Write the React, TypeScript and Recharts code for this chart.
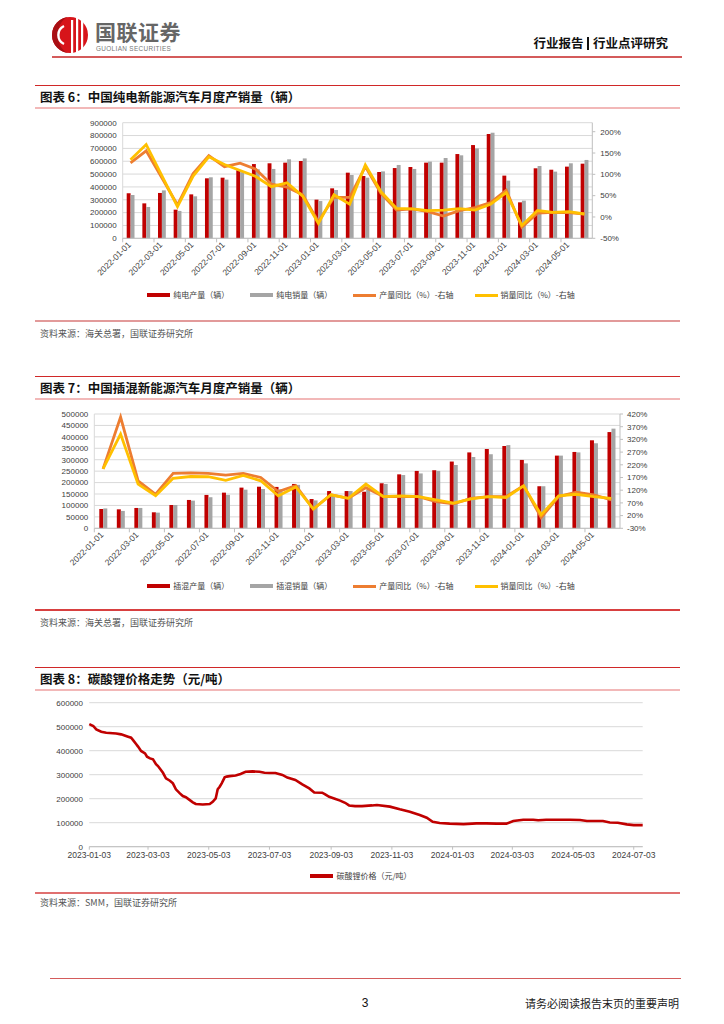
import React from 'react';
import { ComposedChart, LineChart, Bar, Line, XAxis, YAxis, CartesianGrid, Legend } from 'recharts';

// ---------- data: chart 6 (BEV) ----------
const months = [
  '2022-01-01', '2022-02-01', '2022-03-01', '2022-04-01', '2022-05-01', '2022-06-01',
  '2022-07-01', '2022-08-01', '2022-09-01', '2022-10-01', '2022-11-01', '2022-12-01',
  '2023-01-01', '2023-02-01', '2023-03-01', '2023-04-01', '2023-05-01', '2023-06-01',
  '2023-07-01', '2023-08-01', '2023-09-01', '2023-10-01', '2023-11-01', '2023-12-01',
  '2024-01-01', '2024-02-01', '2024-03-01', '2024-04-01', '2024-05-01', '2024-06-01',
];
const bevProduction = [350000, 272000, 353000, 223000, 342000, 467000, 472000, 530000, 578000, 584000, 589000, 602000, 301000, 389000, 511000, 485000, 516000, 547000, 555000, 589000, 589000, 656000, 726000, 812000, 488000, 280000, 545000, 534000, 558000, 581000];
const bevSales = [337000, 244000, 373000, 213000, 327000, 475000, 457000, 515000, 537000, 540000, 615000, 622000, 290000, 376000, 493000, 472000, 521000, 571000, 540000, 597000, 625000, 646000, 700000, 822000, 449000, 293000, 563000, 519000, 584000, 610000];
const bevProductionYoY = [127, 155, 92, 28, 102, 144, 118, 126, 112, 77, 70, 52, -11, 46, 46, 118, 55, 16, 19, 12.5, 2, 15, 22, 34, 63, -24, 9, 11, 10, 7];
const bevSalesYoY = [134, 170, 97, 24, 96, 141, 123, 109, 95, 71, 80, 49, -15, 52, 30, 122, 59, 20, 19, 15, 16, 19.5, 16, 30, 57, -20, 15, 11, 12.5, 7];
const bevLeftTicks = [0, 100000, 200000, 300000, 400000, 500000, 600000, 700000, 800000, 900000];
const bevRightTicks = [-50, 0, 50, 100, 150, 200];
const bevNames = ['纯电产量（辆）', '纯电销量（辆）', '产量同比（%）-右轴', '销量同比（%）-右轴'];

// ---------- data: chart 7 (PHEV) ----------
const phevProduction = [84500, 83000, 89000, 70000, 102000, 124000, 146000, 156000, 178000, 182000, 181000, 194000, 128000, 163000, 163000, 160000, 197000, 236000, 251000, 254000, 292000, 332000, 347000, 360000, 299000, 184000, 318000, 334000, 385000, 421000];
const phevSales = [87000, 76000, 89000, 68500, 102000, 121000, 136000, 146000, 169000, 172000, 170000, 190000, 122000, 150000, 163000, 168000, 194000, 233000, 240000, 251000, 277000, 312000, 324000, 364000, 284000, 184000, 318000, 332000, 372000, 436000];
const phevProductionYoY = [204, 408, 157, 104, 186, 188, 186, 179, 186, 170, 115, 138, 46, 102, 88, 130, 95, 95, 95, 75, 66, 88, 95, 95, 138, 12, 95, 112, 102, 82];
const phevSalesYoY = [204, 341, 144, 98, 167, 174, 173, 159, 178, 157, 98, 133, 46, 102, 88, 144, 95, 98, 95, 82, 69, 86, 95, 91, 137, 23, 98, 104, 95, 88];
const phevLeftTicks = [0, 50000, 100000, 150000, 200000, 250000, 300000, 350000, 400000, 450000, 500000];
const phevRightTicks = [-30, 20, 70, 120, 170, 220, 270, 320, 370, 420];
const phevNames = ['插混产量（辆）', '插混销量（辆）', '产量同比（%）-右轴', '销量同比（%）-右轴'];

// ---------- data: chart 8 (lithium carbonate) ----------
const priceDates = [
  '2023-01-03', '2023-01-07', '2023-01-10', '2023-01-15', '2023-01-20', '2023-01-30', '2023-02-04', '2023-02-11',
  '2023-02-14', '2023-02-16', '2023-02-19', '2023-02-21', '2023-02-24', '2023-02-28', '2023-03-02', '2023-03-05',
  '2023-03-08', '2023-03-11', '2023-03-13', '2023-03-18', '2023-03-21', '2023-03-25', '2023-03-28', '2023-03-31',
  '2023-04-04', '2023-04-07', '2023-04-10', '2023-04-14', '2023-04-17', '2023-04-20', '2023-04-27', '2023-05-04',
  '2023-05-07', '2023-05-10', '2023-05-12', '2023-05-14', '2023-05-16', '2023-05-19', '2023-05-21', '2023-05-24',
  '2023-05-30', '2023-06-04', '2023-06-09', '2023-06-16', '2023-06-23', '2023-06-28', '2023-07-03', '2023-07-09',
  '2023-07-16', '2023-07-21', '2023-07-29', '2023-08-05', '2023-08-12', '2023-08-17', '2023-08-25', '2023-08-28',
  '2023-09-01', '2023-09-06', '2023-09-12', '2023-09-17', '2023-09-21', '2023-09-27', '2023-10-04', '2023-10-14',
  '2023-10-19', '2023-11-01', '2023-11-11', '2023-11-21', '2023-12-01', '2023-12-08', '2023-12-14', '2023-12-21',
  '2023-12-31', '2024-01-14', '2024-01-27', '2024-02-06', '2024-02-16', '2024-02-26', '2024-03-04', '2024-03-14',
  '2024-03-24', '2024-03-29', '2024-04-06', '2024-04-17', '2024-04-30', '2024-05-10', '2024-05-17', '2024-06-02',
  '2024-06-09', '2024-06-17', '2024-06-26', '2024-07-03', '2024-07-12',
];
const lithiumPrice = [
  511000, 503000, 489000, 479000, 475000, 472000, 468000, 458000,
  454000, 444000, 428000, 417000, 399000, 389000, 375000, 368000,
  364000, 344000, 336000, 308000, 285000, 275000, 264000, 239000,
  222000, 211000, 206000, 194000, 185000, 178000, 176000, 178000,
  187000, 201000, 239000, 250000, 264000, 289000, 292000, 294000,
  297000, 303000, 312000, 314000, 312000, 308000, 307000, 307000,
  299000, 288000, 278000, 260000, 243000, 226000, 225000, 218000,
  208000, 201000, 192000, 183000, 172000, 169000, 169000, 172000,
  174000, 167000, 156000, 146000, 132000, 121000, 104000, 99000,
  96000, 94000, 97000, 97000, 96000, 96000, 107000, 112000,
  112000, 110000, 112000, 112000, 112000, 111000, 107000, 107000,
  101000, 100000, 93000, 90000, 90000,
];
const priceTickDates = ['2023-01-03', '2023-03-03', '2023-05-03', '2023-07-03', '2023-09-03', '2023-11-03', '2024-01-03', '2024-03-03', '2024-05-03', '2024-07-03'];
const priceYTicks = [0, 100000, 200000, 300000, 400000, 500000, 600000];
const priceName = '碳酸锂价格（元/吨）';

// ---------- derived tables ----------
const data6 = months.map((m, i) => ({ month: m, prod: bevProduction[i], sales: bevSales[i], prodYoY: bevProductionYoY[i], salesYoY: bevSalesYoY[i] }));
const data7 = months.map((m, i) => ({ month: m, prod: phevProduction[i], sales: phevSales[i], prodYoY: phevProductionYoY[i], salesYoY: phevSalesYoY[i] }));
const DAY = 86400000;
const dayOf = (s: string) => Math.round((Date.parse(s) - Date.parse(priceDates[0])) / DAY);
const data8 = priceDates.map((d, i) => ({ day: dayOf(d), price: lithiumPrice[i] }));
const priceTicks = priceTickDates.map(dayOf);

// ---------- styles ----------
const CJK = '"Noto Sans CJK SC", "Noto Sans", sans-serif';
const NUM = '"Liberation Sans", Arial, sans-serif';
const RED = '#C00000';
const GRAY = '#A5A5A5';
const ORANGE = '#ED7D31';
const YELLOW = '#FFC000';
const GRID = '#D9D9D9';
const AXIS = '#BFBFBF';
const LABEL = '#404040';

const RotTick = (props: any) => {
  const { x, y, payload, bw } = props;
  const px = x + 1;
  const py = y + 3;
  return (
    <g>
      <line x1={x - bw / 2} y1={y - 4} x2={x - bw / 2} y2={y} stroke={AXIS} strokeWidth={1} />
      <text x={px} y={py} textAnchor="end" transform={`rotate(-45 ${px} ${py})`} fontSize={8.5} fill={LABEL} fontFamily={NUM}>
        {payload.value}
      </text>
    </g>
  );
};

const LegendRow = ({ items }: { items: { name: string; color: string; h: number }[] }) => (
  <div style={{ display: 'flex', justifyContent: 'center', alignItems: 'center', gap: 21, fontFamily: CJK, fontSize: 8, color: '#404040', lineHeight: '12px', paddingRight: 2 }}>
    {items.map((it) => (
      <div key={it.name} style={{ display: 'flex', alignItems: 'center' }}>
        <span style={{ display: 'inline-block', width: 23, height: it.h, background: it.color, marginRight: 3 }} />
        <span>{it.name}</span>
      </div>
    ))}
  </div>
);

const Rule = ({ top, left = 35, right = 680, h = 1, color }: any) => (
  <div style={{ position: 'absolute', top, left, width: right - left, height: h, background: color }} />
);

const Title = ({ top, text }: { top: number; text: string }) => (
  <>
    <Rule top={top - 12} color="#D02828" />
    <div style={{ position: 'absolute', top: top - 8, left: 40, fontFamily: CJK, fontWeight: 700, fontSize: 12.5, lineHeight: '16px', color: '#111', whiteSpace: 'nowrap' }}>{text}</div>
    <Rule top={top + 10} h={2} color="#F2B8B8" />
  </>
);

const Source = ({ top, text, lineTop, lineColor }: any) => (
  <>
    <Rule top={lineTop} h={2} color={lineColor} />
    <div style={{ position: 'absolute', top: top - 7, left: 40, fontFamily: CJK, fontSize: 9, lineHeight: '14px', color: '#555', whiteSpace: 'nowrap' }}>{text}</div>
  </>
);

function BarLineChart({ top, data, leftTicks, rightTicks, rightDomain, plot, names, barW }: any) {
  const width = 724;
  const height = plot.legendBottom - top;
  const bw = (plot.right - plot.left) / data.length;
  const items = [
    { name: names[0], color: RED, h: 4 },
    { name: names[1], color: GRAY, h: 4 },
    { name: names[2], color: ORANGE, h: 3 },
    { name: names[3], color: YELLOW, h: 3 },
  ];
  return (
    <div style={{ position: 'absolute', top, left: 0 }}>
      <ComposedChart
        width={width}
        height={height}
        data={data}
        barGap={0}
        margin={{ top: plot.top - top, right: width - plot.right - 40, bottom: 0, left: 0 }}
      >
        <CartesianGrid vertical={false} stroke={GRID} strokeWidth={1} />
        <XAxis
          dataKey="month"
          interval={1}
          tickSize={4}
          tickMargin={0}
          tickLine={false}
          axisLine={{ stroke: AXIS }}
          height={plot.legendBottom - plot.bottom}
          tick={(p: any) => <RotTick {...p} bw={bw} />}
        />
        <YAxis
          domain={[leftTicks[0], leftTicks[leftTicks.length - 1]]}
          ticks={leftTicks}
          interval={0}
          width={plot.left}
          tickSize={4}
          tickMargin={2}
          tickLine={false}
          axisLine={{ stroke: GRID }}
          tick={{ fontSize: 8, fill: LABEL, fontFamily: NUM }}
        />
        <YAxis
          yAxisId="right"
          orientation="right"
          domain={rightDomain}
          ticks={rightTicks}
          interval={0}
          width={40}
          tickSize={3}
          tickMargin={plot.rightGap - 3}
          tickLine={{ stroke: AXIS }}
          axisLine={{ stroke: AXIS }}
          tickFormatter={(v: number) => `${v}%`}
          tick={{ fontSize: 8, fill: LABEL, fontFamily: NUM }}
        />
        <Bar dataKey="prod" name={names[0]} fill={RED} barSize={barW} isAnimationActive={false} />
        <Bar dataKey="sales" name={names[1]} fill={GRAY} barSize={barW} isAnimationActive={false} />
        <Line yAxisId="right" dataKey="prodYoY" name={names[2]} type="linear" stroke={ORANGE} strokeWidth={2.8} dot={false} isAnimationActive={false} />
        <Line yAxisId="right" dataKey="salesYoY" name={names[3]} type="linear" stroke={YELLOW} strokeWidth={2.8} dot={false} isAnimationActive={false} />
        <Legend
          layout="horizontal"
          verticalAlign="middle"
          align="center"
          wrapperStyle={{ top: plot.legendY - top - 6, left: 0, width: 724 }}
          content={() => <LegendRow items={items} />}
        />
      </ComposedChart>
    </div>
  );
}

function PriceChart() {
  const top = 690;
  const plot = { top: 702.7, bottom: 846.7, left: 89.3, right: 642.7, legendBottom: 885, legendY: 876 };
  const width = 724;
  const fmt = (v: number) => {
    const i = priceTicks.indexOf(v);
    return i >= 0 ? priceTickDates[i] : '';
  };
  return (
    <div style={{ position: 'absolute', top, left: 0 }}>
      <LineChart
        width={width}
        height={plot.legendBottom - top}
        data={data8}
        margin={{ top: plot.top - top, right: width - plot.right, bottom: 0, left: 0 }}
      >
        <CartesianGrid vertical={false} stroke={GRID} strokeWidth={1} />
        <XAxis
          type="number"
          dataKey="day"
          domain={['dataMin', 'dataMax']}
          ticks={priceTicks}
          interval={0}
          tickFormatter={fmt}
          tickSize={3}
          tickMargin={2}
          tickLine={{ stroke: AXIS }}
          axisLine={{ stroke: AXIS }}
          height={plot.legendBottom - plot.bottom}
          tick={{ fontSize: 8.5, fill: LABEL, fontFamily: NUM }}
        />
        <YAxis
          domain={[0, 600000]}
          ticks={priceYTicks}
          interval={0}
          width={plot.left}
          tickSize={4}
          tickMargin={2.3}
          tickLine={false}
          axisLine={false}
          tick={{ fontSize: 8, fill: LABEL, fontFamily: NUM }}
        />
        <Line dataKey="price" name={priceName} type="linear" stroke={RED} strokeWidth={2.6} dot={false} isAnimationActive={false} />
        <Legend
          layout="horizontal"
          verticalAlign="middle"
          align="center"
          wrapperStyle={{ top: plot.legendY - top - 6, left: 0, width: 724 }}
          content={() => <LegendRow items={[{ name: priceName, color: RED, h: 4 }]} />}
        />
      </LineChart>
    </div>
  );
}

const Logo = () => (
  <svg style={{ position: 'absolute', left: 50, top: 14 }} width={42} height={42} viewBox="0 0 42 42">
    <circle cx={20} cy={21} r={18} fill="#D7141A" />
    <path d="M20 3 A18 18 0 0 0 20 39 A12 18 0 0 1 20 3 Z" fill="#A80F14" />
    <rect x={21} y={6} width={2.2} height={33} fill="#fff" />
    <rect x={26} y={4} width={2.2} height={35} fill="#fff" />
    <rect x={31} y={7} width={2.2} height={30} fill="#fff" />
    <path d="M14 12 A10 10 0 0 0 14 30" stroke="#fff" strokeWidth={2.4} fill="none" />
  </svg>
);

export default function App() {
  return (
    <div style={{ position: 'absolute', left: 0, top: 0, width: 724, height: 1024, background: '#fff', overflow: 'hidden' }}>
      {/* header */}
      <Logo />
      <div style={{ position: 'absolute', left: 95, top: 20, fontFamily: CJK, fontWeight: 700, fontSize: 21, lineHeight: '22px', height: 22, color: '#666', letterSpacing: 0.5 }}>国联证券</div>
      <div style={{ position: 'absolute', left: 96, top: 45, fontFamily: NUM, fontSize: 6.4, lineHeight: '7px', height: 7, color: '#777', letterSpacing: 0.35 }}>GUOLIAN SECURITIES</div>
      <div style={{ position: 'absolute', right: 56, top: 35, fontFamily: CJK, fontWeight: 700, fontSize: 12.5, lineHeight: '16px', color: '#111', display: 'flex', alignItems: 'center' }}>
        <span>行业报告</span>
        <span style={{ display: 'inline-block', width: 1.5, height: 13, background: '#111', margin: '0 4px' }} />
        <span>行业点评研究</span>
      </div>
      <Rule top={56} left={52} right={682} h={2} color="#D45B5B" />

      {/* chart 6 */}
      <Title top={97} text="图表 6：中国纯电新能源汽车月度产销量（辆）" />
      <BarLineChart
        top={110}
        data={data6}
        leftTicks={bevLeftTicks}
        rightTicks={bevRightTicks}
        rightDomain={[-50, 221.1]}
        names={bevNames}
        barW={3.9}
        plot={{ top: 122.7, bottom: 238.3, left: 122.7, right: 592.3, legendBottom: 310, legendY: 295, rightGap: 8 }}
      />
      <Source lineTop={319.5} lineColor="#E29A9A" top={334} text="资料来源：海关总署，国联证券研究所" />

      {/* chart 7 */}
      <Title top={388} text="图表 7：中国插混新能源汽车月度产销量（辆）" />
      <BarLineChart
        top={400}
        data={data7}
        leftTicks={phevLeftTicks}
        rightTicks={phevRightTicks}
        rightDomain={[-30, 420]}
        names={phevNames}
        barW={4}
        plot={{ top: 414, bottom: 528.3, left: 94.3, right: 620, legendBottom: 595, legendY: 586, rightGap: 7 }}
      />
      <Source lineTop={608.5} lineColor="#D84040" top={623} text="资料来源：海关总署，国联证券研究所" />

      {/* chart 8 */}
      <Title top={679} text="图表 8：碳酸锂价格走势（元/吨）" />
      <PriceChart />
      <Source lineTop={891.5} lineColor="#E07070" top={903} text="资料来源：SMM，国联证券研究所" />

      {/* footer */}
      <Rule top={977.5} left={50} right={681} h={1.5} color="#D45B5B" />
      <div style={{ position: 'absolute', left: 359, top: 995, width: 12, textAlign: 'center', fontFamily: NUM, fontSize: 12, lineHeight: '16px', color: '#111' }}>3</div>
      <div style={{ position: 'absolute', right: 45, top: 995, fontFamily: CJK, fontSize: 11, lineHeight: '16px', color: '#222', whiteSpace: 'nowrap' }}>请务必阅读报告末页的重要声明</div>
    </div>
  );
}
